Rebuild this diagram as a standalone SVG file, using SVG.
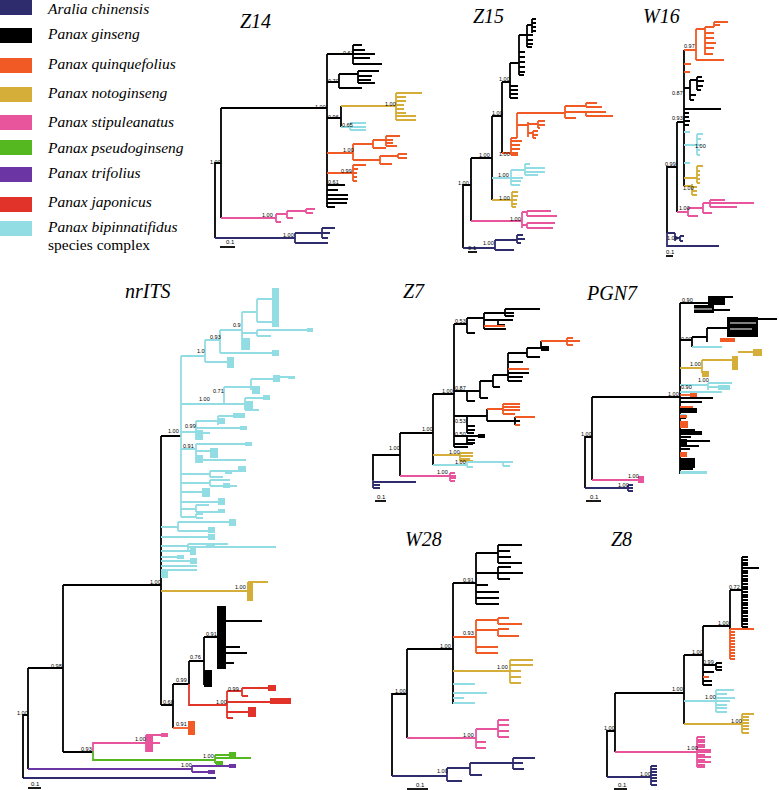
<svg xmlns="http://www.w3.org/2000/svg" width="779" height="790" viewBox="0 0 779 790">
<style>
path{fill:none;stroke-width:1.8;stroke-linecap:butt}
.k{stroke:#000}.nv{stroke:#2f2c6e}.or{stroke:#f15a24}.gd{stroke:#d4ae38}.pk{stroke:#e8559c}.gr{stroke:#55b821}.pu{stroke:#6b35a3}.rd{stroke:#e2332a}.cy{stroke:#92dde3}.wh{stroke:#fff;stroke-width:1}
rect.k{fill:#000;stroke:none}rect.nv{fill:#2f2c6e;stroke:none}rect.or{fill:#f15a24;stroke:none}rect.gd{fill:#d4ae38;stroke:none}rect.pk{fill:#e8559c;stroke:none}rect.gr{fill:#55b821;stroke:none}rect.pu{fill:#6b35a3;stroke:none}rect.rd{fill:#e2332a;stroke:none}rect.cy{fill:#92dde3;stroke:none}
.lg{font-family:"Liberation Serif","Times New Roman",serif;font-style:italic;font-size:15.5px;fill:#000}
.lg2{font-family:"Liberation Serif","Times New Roman",serif;font-size:15.5px;fill:#000}
.ti{font-family:"Liberation Serif","Times New Roman",serif;font-style:italic;font-size:20px;fill:#000}
.b{font-family:"Liberation Sans",Arial,sans-serif;font-size:5.5px;fill:#000}
.sc{font-family:"Liberation Sans",Arial,sans-serif;font-size:6px;fill:#000}
</style>

<g id="legend">
<g id="leg-aralia"><rect class="nv" x="0" y="0" width="32" height="15"/><text class="lg" x="48" y="14">Aralia chinensis</text></g>
<g id="leg-ginseng"><rect class="k" x="0" y="28" width="32" height="15"/><text class="lg" x="48" y="39">Panax ginseng</text></g>
<g id="leg-quinq"><rect class="or" x="0" y="58" width="32" height="15"/><text class="lg" x="48" y="69">Panax quinquefolius</text></g>
<g id="leg-noto"><rect class="gd" x="0" y="87" width="32" height="15"/><text class="lg" x="48" y="98">Panax notoginseng</text></g>
<g id="leg-stip"><rect class="pk" x="0" y="115" width="32" height="15"/><text class="lg" x="48" y="127">Panax stipuleanatus</text></g>
<g id="leg-pseudo"><rect class="gr" x="0" y="140" width="32" height="15"/><text class="lg" x="48" y="153">Panax pseudoginseng</text></g>
<g id="leg-trif"><rect class="pu" x="0" y="167" width="32" height="15"/><text class="lg" x="48" y="178">Panax trifolius</text></g>
<g id="leg-japon"><rect class="rd" x="0" y="197" width="32" height="15"/><text class="lg" x="48" y="207">Panax japonicus</text></g>
<g id="leg-bipin"><rect class="cy" x="0" y="221" width="32" height="15"/><text class="lg" x="48" y="232">Panax bipinnatifidus</text><text class="lg2" x="48" y="250">species complex</text></g>
</g>

<g id="tree-Z14">
<text class="ti" x="240" y="28">Z14</text>
<path class="k" d="M221 163H215V238M221 108V218M221 108H327M327 54V207M327 54H353M353 45V64M353 45H362M353 50H365M353 54H375M353 58H370M353 64H382M327 82H339M339 74V88M339 74H358M358 71V83M358 71H379M358 76H372M358 80H371M358 83H375M339 88H362M327 118H341M341 106V127M327 185H345M327 190H338M327 195H348M327 199H348M327 203H347M327 207H335"/>
<path class="nv" d="M215 238H295M295 233V243M295 233H322M322 228V238M322 228H335M322 233H330M322 238H328M295 243H328"/>
<path class="gd" d="M341 106H396M396 93V120M396 93H422M396 97H406M396 101H406M396 105H404M396 109H404M396 113H406M396 116H416M396 120H416"/>
<path class="cy" d="M341 127H350M350 123V130M350 123H366M350 127H366M350 130H366"/>
<path class="or" d="M327 153H353M353 144V160M353 144H373M373 140V148M373 140H386M386 136V146M386 136H400M386 140H393M386 143H393M386 146H397M373 148H386M353 160H380M380 156V164M380 156H398M398 154V158M398 154H407M398 158H407M380 164H392M327 173H353M353 165V181M353 165H366M353 169H358M353 173H357M353 177H357M353 181H357"/>
<path class="pk" d="M221 218H276M276 214V222M276 214H287M287 211V218M287 211H306M306 209V213M306 209H315M306 213H313M287 218H293M276 222H281"/>
<path class="k" d="M220 247H235"/>
<text class="sc" x="226" y="244">0.1</text>
<text class="b" x="210" y="164">1.00</text><text class="b" x="315" y="109">1.00</text><text class="b" x="343" y="55">0.63</text><text class="b" x="328" y="83">0.70</text><text class="b" x="328" y="119">0.96</text>
<text class="b" x="385" y="106" fill="#d4ae38">1.00</text><text class="b" x="342" y="127" fill="#92dde3">0.65</text><text class="b" x="343" y="152" fill="#f15a24">1.00</text><text class="b" x="341" y="173" fill="#f15a24">0.99</text>
<text class="b" x="328" y="184">0.61</text><text class="b" x="262" y="217" fill="#e8559c">1.00</text><text class="b" x="283" y="237">1.00</text>
</g>

<g id="tree-Z15">
<text class="ti" x="473" y="23">Z15</text>
<path class="k" d="M471 185H463V248M471 158V221M471 158H492M492 116V200M492 116H502M502 82V153M502 82H510M510 63V98M510 86H518M510 90H518M510 94H518M510 98H518M510 63H519M519 35V75M519 52H525M519 57H525M519 62H525M519 67H525M519 72H525M519 75H524M519 35H527M527 25V47M527 35H533M527 40H533M527 44H533M527 47H532M527 25H532M532 19V33M532 19H536M532 23H536M532 27H536M532 31H536"/>
<path class="or" d="M502 153H511M511 138V155M511 141H522M511 145H520M511 149H520M511 153H518M511 155H518M511 138H517M517 113V138M517 113H565M565 106V118M565 106H586M586 103V107M586 103H597M586 107H602M565 112H586M586 112V116M586 112H606M586 116H613M565 118H576M517 125H528M528 122V137M528 124H538M538 121V128M538 121H545M538 125H545M538 128H540M528 133H533M533 131V138M533 131H538M533 135H538M533 138H536"/>
<path class="cy" d="M492 178H511M511 170V185M511 170H525M525 164V175M525 164H530M525 168H545M525 172H545M525 175H538M511 178H523M511 181H521M511 185H520"/>
<path class="gd" d="M492 200H512M512 192V207M512 192H518M512 196H518M512 200H517M512 204H517M512 207H516"/>
<path class="pk" d="M471 221H522M522 212V228M522 212H527M527 211V216M527 211H551M527 216H557M522 225H527M527 223V228M527 223H555M527 228H553"/>
<path class="nv" d="M463 248H495M495 240V250M495 240H517M517 235V243M517 235H523M517 239H525M517 243H521M495 250H514"/>
<path class="k" d="M468 252H477"/>
<text class="sc" x="468" y="250">0.1</text>
<text class="b" x="458" y="185">1.00</text><text class="b" x="483" y="245">1.00</text><text class="b" x="479" y="157">1.00</text><text class="b" x="492" y="115">1.00</text><text class="b" x="499" y="81">1.00</text><text class="b" x="499" y="156">1.00</text>
<text class="b" x="498" y="177" fill="#92dde3">1.00</text><text class="b" x="499" y="200" fill="#d4ae38">1.00</text><text class="b" x="510" y="221" fill="#e8559c">1.00</text>
</g>

<g id="tree-W16">
<text class="ti" x="643" y="23">W16</text>
<path class="k" d="M677 167H667V233M677 122V212M677 122H684M684 50V186M684 88H690M690 80V100M690 80H697M697 77V90M697 77H702M697 81H704M697 86H703M697 90H701M690 95H696M690 100H694M684 109H721M684 113H689M684 117H689M684 121H690M684 125H689"/>
<path class="nv" d="M667 233V246H719M667 233H675M675 233V241M675 238H680M680 236V241M680 236H684M680 241H683"/>
<path class="or" d="M684 50H696M696 29V60M696 29H705M705 27V55M705 27H714M714 22V27M714 22H728M714 25H720M705 33H714M705 38H714M705 43H716M705 48H714M705 54H713M696 60H724M684 64H691M684 72H690"/>
<path class="cy" d="M684 132H690M684 145H697M697 134V155M697 134H703M697 139H701M697 145H701M697 150H700M697 155H700M684 163H690"/>
<path class="gd" d="M684 178H697M697 166V183M697 166H703M697 171H700M697 175H700M697 179H700M697 183H700M684 186H692M692 184V195M692 187H697M692 191H697M692 195H697"/>
<path class="pk" d="M677 212H688M688 208V216M688 208H703M703 203V213M703 203H710M710 200V207M710 200H725M710 203H754M710 207H737M703 213H712M688 216H698"/>
<path class="k" d="M666 256H673"/>
<text class="sc" x="666" y="254">0.1</text>
<text class="b" x="665" y="166">0.99</text><text class="b" x="667" y="240" fill="#2f2c6e">1.00</text><text class="b" x="679" y="210" fill="#e8559c">1.00</text><text class="b" x="672" y="120">0.93</text>
<text class="b" x="684" y="48" fill="#f15a24">0.97</text><text class="b" x="672" y="95">0.87</text><text class="b" x="695" y="148" fill="#92dde3">1.00</text><text class="b" x="683" y="190" fill="#d4ae38">1.00</text>
</g>

<g id="tree-nrITS">
<text class="ti" x="125" y="298">nrITS</text>
<path class="nv" d="M23 778H216"/>
<path class="k" d="M28 715H23V778M28 668V769M28 668H63M63 585V752M63 752H93M63 585H161M161 436V705M161 436H181M161 705H173M173 684V728M173 684H189M189 661V684M189 661H204M204 637V685M204 637H218M226 621H262M226 647H240M226 653H247M226 663H234"/>
<rect class="k" x="217" y="606" width="9" height="63"/><rect class="k" x="204" y="670" width="8" height="17"/>
<path class="pu" d="M28 769H192M192 766V772M192 766H236M192 772H215"/>
<rect class="pu" x="229" y="764" width="7" height="4"/><rect class="pu" x="208" y="770" width="7" height="4"/>
<path class="pk" d="M93 751V743H146M146 735V752M146 735H168M146 743H160"/>
<rect class="pk" x="146" y="736" width="7" height="16"/><rect class="pk" x="161" y="733" width="7" height="4"/>
<path class="gr" d="M93 751V760H215M215 755V763M215 755H236M215 758H251M215 763H223"/>
<rect class="gr" x="229" y="752" width="7" height="6"/><rect class="gr" x="216" y="761" width="7" height="4"/>
<path class="gd" d="M161 591H248M248 582H268"/>
<rect class="gd" x="247" y="582" width="6" height="19"/>
<path class="rd" d="M189 684V705H227M227 691V718M227 691H242M242 688V696M242 688H268M242 696H248M227 702H272M227 712H248M227 718H233"/>
<rect class="rd" x="268" y="685" width="8" height="6"/><rect class="rd" x="270" y="698" width="21" height="6"/><rect class="rd" x="248" y="707" width="8" height="10"/>
<path class="or" d="M173 728H188"/>
<rect class="or" x="188" y="721" width="7" height="14"/>
<path class="cy" d="M181 356V517M181 356H205M205 340V362M205 340H220M220 330V353M220 330H242M242 312V350M242 312H257M257 299V322M257 299H272M257 322H272M242 333H257M257 330V336M257 330H313M257 336H271M220 353H279M205 362H228M181 404H224M224 387V404M224 387H251M251 379V390M251 379H273M280 377H294M224 404H245M245 398V410M245 398H270M245 410H259M181 432H196M196 421V440M196 421H218M218 416V425M218 416H245M196 428H247M196 433H210M181 449H196M196 444V463M196 444H252M196 451H210M196 460H246M181 474H210M210 471V477M210 471H246M210 477H223M181 483H210M210 480V486M210 480H230M210 486H237M181 492H202M181 502H218M181 509H196M196 505V512M196 505H209M196 512H225M181 517H196M196 514V518M196 514H203M196 518H203M161 527H178M178 522V531M178 522H236M178 531H215M161 537H215M161 546H188M188 544V551M188 544H228M188 547H276M161 551H196M161 557H184M161 561H197M161 566H197M161 570H197"/>
<rect class="cy" x="272" y="288" width="7" height="39"/><rect class="cy" x="307" y="328" width="6" height="4"/><rect class="cy" x="242" y="338" width="8" height="12"/><rect class="cy" x="272" y="350" width="7" height="6"/><rect class="cy" x="227" y="357" width="7" height="11"/>
<rect class="cy" x="273" y="375" width="7" height="7"/><rect class="cy" x="288" y="376" width="7" height="3"/><rect class="cy" x="252" y="386" width="8" height="8"/><rect class="cy" x="263" y="395" width="7" height="5"/><rect class="cy" x="245" y="401" width="8" height="9"/>
<rect class="cy" x="233" y="413" width="12" height="5"/><rect class="cy" x="218" y="418" width="7" height="6"/><rect class="cy" x="240" y="426" width="7" height="4"/><rect class="cy" x="196" y="430" width="7" height="10"/>
<rect class="cy" x="245" y="442" width="7" height="4"/><rect class="cy" x="210" y="448" width="8" height="10"/><rect class="cy" x="196" y="455" width="7" height="8"/>
<rect class="cy" x="238" y="466" width="8" height="5"/><rect class="cy" x="225" y="470" width="7" height="4"/><rect class="cy" x="223" y="483" width="7" height="5"/><rect class="cy" x="202" y="488" width="8" height="9"/><rect class="cy" x="218" y="498" width="7" height="7"/><rect class="cy" x="218" y="509" width="7" height="4"/>
<rect class="cy" x="229" y="519" width="7" height="7"/><rect class="cy" x="208" y="527" width="7" height="6"/><rect class="cy" x="208" y="534" width="7" height="6"/><rect class="cy" x="206" y="543" width="9" height="5"/><rect class="cy" x="190" y="548" width="6" height="7"/><rect class="cy" x="177" y="555" width="7" height="4"/><rect class="cy" x="190" y="558" width="7" height="6"/><rect class="cy" x="161" y="569" width="7" height="9"/>
<path class="k" d="M28 788H41"/>
<text class="sc" x="31" y="786">0.1</text>
<text class="b" x="17" y="715">1.00</text><text class="b" x="181" y="767" fill="#6b35a3">1.00</text><text class="b" x="51" y="668">0.98</text><text class="b" x="81" y="751">0.93</text>
<text class="b" x="135" y="741" fill="#e8559c">1.00</text><text class="b" x="203" y="758" fill="#55b821">1.00</text><text class="b" x="150" y="584">1.00</text><text class="b" x="168" y="433">1.00</text>
<text class="b" x="235" y="589" fill="#d4ae38">1.00</text><text class="b" x="163" y="704">0.68</text><text class="b" x="176" y="726" fill="#f15a24">0.91</text><text class="b" x="176" y="682">0.99</text>
<text class="b" x="216" y="704" fill="#e2332a">1.00</text><text class="b" x="228" y="691" fill="#e2332a">0.99</text><text class="b" x="190" y="659">0.76</text><text class="b" x="206" y="636">0.91</text>
<text class="b" x="197" y="353" fill="#92dde3">1.0</text><text class="b" x="210" y="339" fill="#92dde3">0.93</text><text class="b" x="233" y="327" fill="#92dde3">0.9</text><text class="b" x="199" y="401" fill="#92dde3">1.00</text>
<text class="b" x="213" y="393" fill="#92dde3">0.71</text><text class="b" x="185" y="428" fill="#92dde3">0.99</text><text class="b" x="183" y="448" fill="#92dde3">0.91</text>
</g>

<g id="tree-Z7">
<text class="ti" x="403" y="298">Z7</text>
<path class="k" d="M400 455H373V480M400 433V476M400 433H433M433 394V465M433 394H454M454 324V447M454 324H467M467 318V333M467 318H484M484 313V329M484 313H505M505 309V316M505 309H540M505 313H514M505 316H514M484 320H498M498 320V325M498 320H513M498 325H505M484 329H506M467 333H475M454 391H467M467 391V401M467 401H475M467 391H480M480 381V398M480 398H488M480 381H493M493 375V387M493 387H500M493 375H508M508 353V381M508 362H523M508 373H529M508 377H523M508 381H522M508 353H527M527 348V357M527 357H540M527 348H541M541 341V349M541 349H549M454 416H467M467 416V433M467 416H487M487 409V421M487 421H515M515 417V425M515 421H520M467 426H475M467 430H475M467 433H474M454 436H467M467 436V443M467 436H478M467 440H475M467 443H475M454 444H473M454 447H468"/>
<rect class="k" x="478" y="434" width="7" height="4"/><rect class="k" x="541" y="346" width="8" height="5"/>
<path class="nv" d="M373 480V488M373 482H416M373 485H380M373 488H380"/>
<path class="pk" d="M400 476H450M450 473V481M450 473H455M450 476H456M450 478H456M450 481H455"/>
<path class="gd" d="M433 455H460M460 453V461M460 453H473M460 456H473M460 459H470M460 461H473"/>
<path class="cy" d="M433 465H467M467 462V467M467 462H503M503 462V466M503 462H513M503 466H510M467 467H473"/>
<path class="or" d="M484 326H505M508 369H529M541 341H580M567 338V345M567 338H573M567 341H573M567 345H573M487 409H503M503 404V414M503 404H520M503 407H520M503 410H520M503 414H515M515 417H535M515 425H520"/>
<path class="k" d="M375 501H386"/>
<text class="sc" x="377" y="499">0.1</text>
<text class="b" x="389" y="450">1.00</text><text class="b" x="437" y="474" fill="#e8559c">1.00</text><text class="b" x="422" y="431">1.00</text><text class="b" x="449" y="454" fill="#d4ae38">1.00</text>
<text class="b" x="455" y="464" fill="#92dde3">1.00</text><text class="b" x="442" y="393">1.00</text><text class="b" x="455" y="323">0.53</text><text class="b" x="455" y="390">0.87</text><text class="b" x="455" y="423">0.53</text><text class="b" x="455" y="436">0.50</text>
</g>

<g id="tree-PGN7">
<text class="ti" x="587" y="300">PGN7</text>
<path class="k" d="M592 437H585V488M592 397V480M592 397H680M680 303V474M680 303H708M708 297H733M708 302H725M708 310H730M680 340H692M692 337V347M692 337H707M707 328V342M707 328H727M740 319H777M680 398H713M680 402H702M680 418H686M680 430H695M680 437H691M680 441H710M680 446H699M680 449H690M680 469H693"/>
<rect class="k" x="708" y="297" width="17" height="8"/><rect class="k" x="694" y="305" width="20" height="8"/><rect class="k" x="727" y="317" width="31" height="20"/>
<path class="wh" d="M730 323H756M730 329H752M694 309H712"/>
<rect class="k" x="680" y="408" width="17" height="5"/><rect class="k" x="680" y="431" width="22" height="4"/><rect class="k" x="680" y="439" width="7" height="8"/><rect class="k" x="680" y="458" width="15" height="10"/>
<path class="nv" d="M585 488H632M628 485V491M628 485H633M628 488H633M628 491H633"/>
<path class="pk" d="M592 480H642"/><rect class="pk" x="638" y="476" width="6" height="7"/>
<rect class="or" x="720" y="338" width="15" height="4"/>
<path class="cy" d="M692 347H722M680 385H708M708 383V390M708 383H732M708 387H730M680 392H722M680 415H686"/>
<rect class="cy" x="718" y="385" width="12" height="5"/><rect class="cy" x="680" y="471" width="27" height="3"/>
<path class="gd" d="M680 368H702M702 360V373M702 360H732M738 352H760"/>
<rect class="gd" x="732" y="356" width="6" height="14"/><rect class="gd" x="753" y="349" width="9" height="7"/><rect class="gd" x="702" y="371" width="7" height="6"/>
<rect class="or" x="690" y="393" width="7" height="4"/><path class="or" d="M680 395H690"/>
<rect class="or" x="680" y="406" width="13" height="2"/><rect class="or" x="680" y="415" width="7" height="3"/><rect class="or" x="680" y="421" width="8" height="7"/><rect class="or" x="680" y="452" width="7" height="5"/>
<path class="k" d="M586 501H601"/>
<text class="sc" x="590" y="499">0.1</text>
<text class="b" x="581" y="436">1.00</text><text class="b" x="618" y="487" fill="#2f2c6e">1.00</text><text class="b" x="628" y="478" fill="#e8559c">1.00</text><text class="b" x="668" y="396">1.00</text>
<text class="b" x="682" y="302">0.90</text><text class="b" x="681" y="341">0.90</text><text class="b" x="690" y="366" fill="#d4ae38">1.00</text><text class="b" x="698" y="382" fill="#92dde3">1.00</text><text class="b" x="681" y="389" fill="#92dde3">0.90</text>
</g>

<g id="tree-W28">
<text class="ti" x="405" y="546">W28</text>
<path class="k" d="M407 694H392V776M407 649V738M407 649H453M453 583V704M453 583H476M476 553V604M476 553H498M498 545V563M498 545H522M498 551H510M498 557H511M498 563H522M476 573H498M498 567V579M498 567H511M498 573H523M498 579H510M476 585H488M476 592H499M476 598H499M476 604H499"/>
<path class="nv" d="M392 776H447M447 768V781M447 768H470M470 763V775M470 775H482M470 763H513M513 758V769M513 758H535M513 763H523M513 769H524M447 781H462"/>
<path class="pk" d="M407 738H476M476 729V748M476 729H498M498 720V737M498 720H509M498 725H509M498 731H509M498 737H509M476 742H486M476 748H486"/>
<path class="or" d="M453 637H476M476 620V653M476 620H498M498 618V624M498 618H509M498 624H522M476 630H498M498 629V636M498 629H509M498 636H519M476 647H498M476 653H498"/>
<path class="gd" d="M453 671H510M510 660V683M510 660H533M510 665H533M510 671H521M510 677H521M510 683H521"/>
<path class="cy" d="M453 684H475M453 693H487M453 698H464M453 703H475"/>
<path class="k" d="M407 789H428"/>
<text class="sc" x="416" y="787">0.1</text>
<text class="b" x="395" y="693">1.00</text><text class="b" x="437" y="773" fill="#2f2c6e">1.00</text><text class="b" x="463" y="737" fill="#e8559c">1.00</text><text class="b" x="440" y="648">1.00</text>
<text class="b" x="463" y="582">0.91</text><text class="b" x="463" y="635" fill="#f15a24">0.93</text><text class="b" x="497" y="669" fill="#d4ae38">1.00</text>
</g>

<g id="tree-Z8">
<text class="ti" x="611" y="546">Z8</text>
<path class="k" d="M615 731H607V777M615 693V752M615 693H684M684 655V724M684 655H703M703 626V685M703 685H712M703 681H712M703 672H714M703 665H716M716 663V670M716 663H722M716 667H722M716 670H722M703 626H730M730 590V629M730 590H742M742 557V627M742 568H759M742 557H748M742 560H748M742 563H748M742 565H748M742 571H748M742 573H748M742 576H748M742 579H748M742 581H748M742 584H748M742 587H748M742 589H748M742 592H748M742 595H748M742 597H748M742 600H748M742 603H748M742 605H748M742 608H748M742 611H748M742 613H748M742 616H748M742 619H748M742 621H748M742 624H748M742 627H748"/>
<path class="nv" d="M607 777H651M651 766V785M651 766H657M651 769H657M651 772H657M651 775H657M651 778H657M651 781H657M651 785H657"/>
<path class="pk" d="M615 752H697M697 737V767M697 737H705M697 740H705M697 742H705M697 745H705M697 747H705M697 750H711M697 752H711M697 755H705M697 757H711M697 760H705M697 762H711M697 765H705M697 767H705"/>
<path class="gd" d="M684 724H742M742 714V733M742 714H754M742 717H749M742 720H749M742 723H749M742 726H749M742 729H749M742 733H749"/>
<path class="cy" d="M684 701H716M716 690V712M716 690H734M716 694H727M716 698H735M716 701H730M716 705H727M716 708H727M716 712H727"/>
<path class="or" d="M703 677H709M730 629V659M730 629H754M730 632H735M730 635H735M730 638H735M730 641H735M730 644H735M730 647H735M730 650H735M730 653H735M730 656H735M730 659H735"/>
<path class="k" d="M614 789H627"/>
<text class="sc" x="618" y="787">0.1</text>
<text class="b" x="604" y="730">1.00</text><text class="b" x="640" y="776" fill="#2f2c6e">1.00</text><text class="b" x="687" y="750" fill="#e8559c">1.00</text><text class="b" x="672" y="691">1.00</text>
<text class="b" x="731" y="723" fill="#d4ae38">1.00</text><text class="b" x="705" y="699" fill="#92dde3">1.00</text><text class="b" x="692" y="654">1.00</text><text class="b" x="703" y="664">0.99</text><text class="b" x="718" y="625">1.00</text><text class="b" x="729" y="589">0.72</text>
</g>
</svg>
